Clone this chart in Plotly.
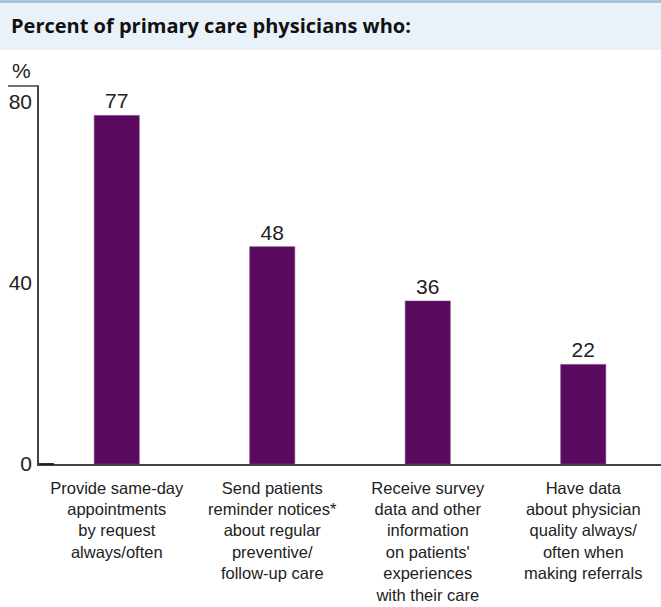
import plotly.graph_objects as go

# Survey results: share of primary care physicians reporting each practice
categories = [
    "Provide same-day<br>appointments<br>by request<br>always/often",
    "Send patients<br>reminder notices*<br>about regular<br>preventive/<br>follow-up care",
    "Receive survey<br>data and other<br>information<br>on patients'<br>experiences<br>with their care",
    "Have data<br>about physician<br>quality always/<br>often when<br>making referrals",
]
percent = [77, 48, 36, 22]
y_ticks = [0, 40, 80]

W, H = 661, 607
M_L, M_R, M_T, M_B = 39, 0, 86, 143
plot_h = H - M_T - M_B
plot_w = W - M_L - M_R

SANS = "Liberation Sans, Arial, sans-serif"


def py(pixel_y):
    """Convert a pixel row (from top of page) to paper y."""
    return (H - M_B - pixel_y) / plot_h


def px(pixel_x):
    return (pixel_x - M_L) / plot_w


fig = go.Figure(
    go.Bar(
        x=list(range(len(categories))),
        y=percent,
        width=0.29,
        marker=dict(color="#5a0a5e", line=dict(color="#7d3f82", width=0.6)),
        text=percent,
        texttemplate="%{text}",
        textposition="outside",
        textfont=dict(family=SANS, size=21, color="#222"),
        cliponaxis=False,
        hoverinfo="skip",
    )
)

axis_col = "#444444"

fig.update_layout(
    width=W,
    height=H,
    margin=dict(l=M_L, r=M_R, t=M_T, b=M_B, autoexpand=False),
    paper_bgcolor="white",
    plot_bgcolor="white",
    showlegend=False,
    font=dict(family=SANS, color="#222"),
    xaxis=dict(
        range=[-0.5, 3.5],
        tickmode="array",
        tickvals=list(range(len(categories))),
        ticktext=categories,
        tickfont=dict(family=SANS, size=16.5, color="#222"),
        showgrid=False,
        zeroline=False,
        showline=True,
        linecolor=axis_col,
        linewidth=1.5,
        ticks="",
        ticklabelstandoff=8,
        automargin=False,
        fixedrange=True,
    ),
    yaxis=dict(
        range=[0, 83.5],
        tickmode="array",
        tickvals=y_ticks,
        ticktext=[str(v) for v in y_ticks],
        tickfont=dict(family=SANS, size=21, color="#222"),
        showgrid=False,
        zeroline=False,
        showline=True,
        linecolor=axis_col,
        linewidth=1.5,
        ticks="",
        ticklabelstandoff=1,
        automargin=False,
        fixedrange=True,
    ),
    shapes=[
        # header band
        dict(type="rect", xref="paper", yref="paper",
             x0=px(0), x1=px(W), y0=py(50), y1=py(0),
             fillcolor="#e9f2f8", line=dict(width=0), layer="below"),
        dict(type="rect", xref="paper", yref="paper",
             x0=px(0), x1=px(W), y0=py(3), y1=py(0),
             fillcolor="#a7c5da", line=dict(width=0), layer="below"),
        # cap line at the top of the value axis
        dict(type="line", xref="paper", yref="paper",
             x0=px(8), x1=0, y0=1, y1=1,
             line=dict(color=axis_col, width=1.5)),
        # darker stub of the baseline next to the value axis
        dict(type="line", xref="paper", yref="paper",
             x0=0, x1=px(54), y0=0, y1=0,
             line=dict(color="#1a1a1a", width=1.8)),
    ],
    annotations=[
        dict(text="<b>Percent of primary care physicians who:</b>",
             xref="paper", yref="paper", x=px(9), y=py(26),
             xanchor="left", yanchor="middle", showarrow=False,
             font=dict(family="Open Sans, Noto Sans, sans-serif", size=20, color="#111")),
        dict(text="%", xref="paper", yref="paper", x=px(21), y=py(70),
             xanchor="center", yanchor="middle", showarrow=False,
             font=dict(family=SANS, size=21, color="#222")),
    ],
)

fig.write_html("out.html")
